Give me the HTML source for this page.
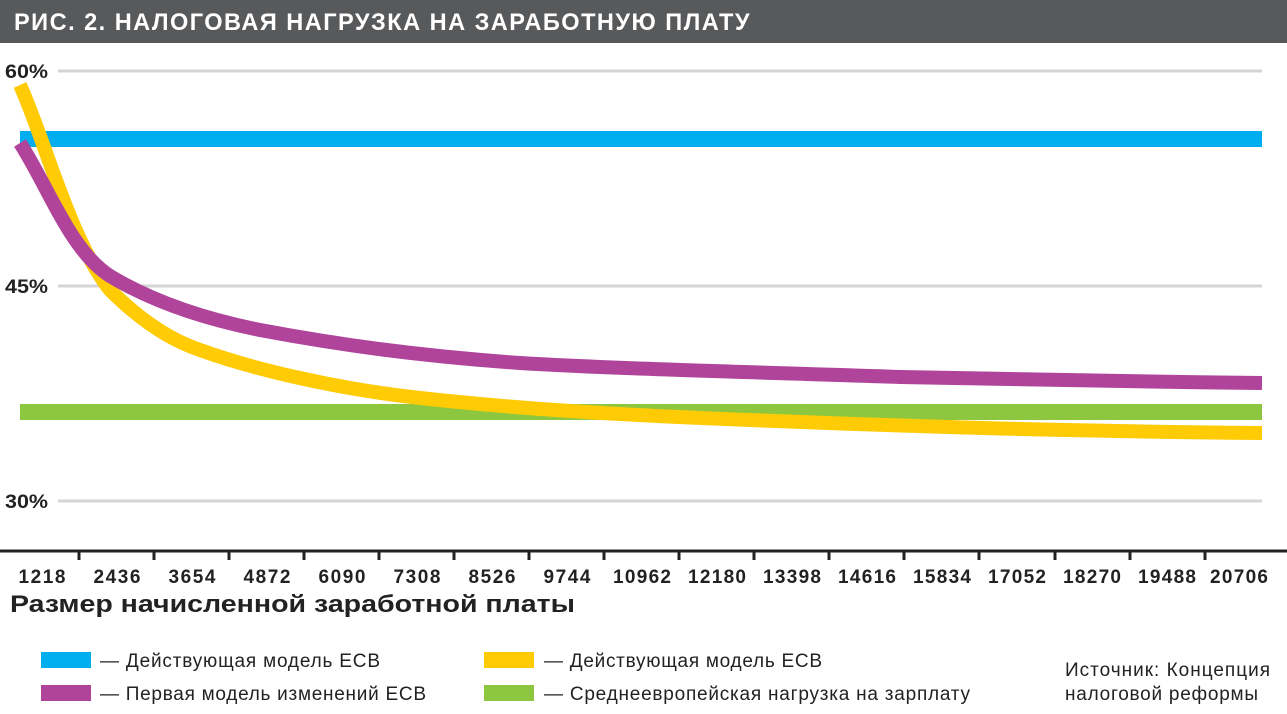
<!DOCTYPE html>
<html><head><meta charset="utf-8"><style>
body{margin:0;width:1287px;height:714px;background:#fff;overflow:hidden;font-family:"Liberation Sans",sans-serif}
</style></head><body>
<svg width="1287" height="714" xmlns="http://www.w3.org/2000/svg" style="display:block">
<rect x="0" y="0" width="1287" height="43" fill="#58595b"/>
<text x="14" y="30" font-family="Liberation Sans, sans-serif" font-weight="bold" font-size="24" fill="#fff" letter-spacing="1.5" textLength="737" lengthAdjust="spacingAndGlyphs">РИС. 2. НАЛОГОВАЯ НАГРУЗКА НА ЗАРАБОТНУЮ ПЛАТУ</text>
<g stroke="#d4d4d4" stroke-width="3">
<line x1="58" y1="71" x2="1262" y2="71"/>
<line x1="58" y1="286" x2="1262" y2="286"/>
<line x1="58" y1="501" x2="1262" y2="501"/>
</g>
<g font-family="Liberation Sans, sans-serif" font-weight="bold" font-size="19" fill="#222">
<text x="5" y="78" textLength="43" lengthAdjust="spacingAndGlyphs">60%</text><text x="5" y="293" textLength="43" lengthAdjust="spacingAndGlyphs">45%</text><text x="5" y="508" textLength="43" lengthAdjust="spacingAndGlyphs">30%</text>
</g>
<line x1="0" y1="551" x2="1287" y2="551" stroke="#222" stroke-width="3"/>
<g stroke="#222" stroke-width="3">
<line x1="79" y1="551" x2="79" y2="560"/><line x1="154" y1="551" x2="154" y2="560"/><line x1="229" y1="551" x2="229" y2="560"/><line x1="304" y1="551" x2="304" y2="560"/><line x1="379" y1="551" x2="379" y2="560"/><line x1="454" y1="551" x2="454" y2="560"/><line x1="529" y1="551" x2="529" y2="560"/><line x1="604" y1="551" x2="604" y2="560"/><line x1="679" y1="551" x2="679" y2="560"/><line x1="754" y1="551" x2="754" y2="560"/><line x1="829" y1="551" x2="829" y2="560"/><line x1="904" y1="551" x2="904" y2="560"/><line x1="979" y1="551" x2="979" y2="560"/><line x1="1055" y1="551" x2="1055" y2="560"/><line x1="1130" y1="551" x2="1130" y2="560"/><line x1="1205" y1="551" x2="1205" y2="560"/>
</g>
<g font-family="Liberation Sans, sans-serif" font-weight="bold" font-size="19" fill="#222" text-anchor="middle" lengthAdjust="spacingAndGlyphs">
<text x="42" y="583" textLength="47">1218</text><text x="117" y="583" textLength="47">2436</text><text x="192" y="583" textLength="47">3654</text><text x="267" y="583" textLength="47">4872</text><text x="342" y="583" textLength="47">6090</text><text x="417" y="583" textLength="47">7308</text><text x="492" y="583" textLength="47">8526</text><text x="567" y="583" textLength="47">9744</text><text x="642" y="583" textLength="58">10962</text><text x="717" y="583" textLength="58">12180</text><text x="792" y="583" textLength="58">13398</text><text x="867" y="583" textLength="58">14616</text><text x="942" y="583" textLength="58">15834</text><text x="1017" y="583" textLength="58">17052</text><text x="1092" y="583" textLength="58">18270</text><text x="1167" y="583" textLength="58">19488</text><text x="1239" y="583" textLength="58">20706</text>
</g>
<text x="10" y="612" font-family="Liberation Sans, sans-serif" font-weight="bold" font-size="24" fill="#222" textLength="565" lengthAdjust="spacingAndGlyphs">Размер начисленной заработной платы</text>
<line x1="20" y1="139" x2="1262" y2="139" stroke="#00aeef" stroke-width="16"/>
<line x1="20" y1="412" x2="1262" y2="412" stroke="#8dc63f" stroke-width="16"/>
<path d="M20,85 C45,140 70,240 110,290 C140,320 170,340 200,350 C250,368 330,388 420,398 C520,409 620,415 750,420 C900,426 1050,431 1262,433" fill="none" stroke="#ffcb05" stroke-width="14"/>
<path d="M20,143 C50,190 70,250 110,276 C150,300 200,318 260,330 C340,345 420,356 520,363 C620,369 750,372 900,377 C1050,380 1150,382 1262,383" fill="none" stroke="#b0439a" stroke-width="14"/>
<rect x="41" y="652" width="50" height="16" fill="#00aeef"/>
<rect x="41" y="685" width="50" height="16" fill="#b0439a"/>
<rect x="484" y="652" width="50" height="16" fill="#ffcb05"/>
<rect x="484" y="685" width="50" height="16" fill="#8dc63f"/>
<g font-family="Liberation Sans, sans-serif" font-size="19" fill="#222" lengthAdjust="spacingAndGlyphs">
<text x="100" y="667" textLength="280">— Действующая модель ЕСВ</text>
<text x="100" y="700" textLength="326">— Первая модель изменений ЕСВ</text>
<text x="544" y="667" textLength="278">— Действующая модель ЕСВ</text>
<text x="544" y="700" textLength="426">— Среднеевропейская нагрузка на зарплату</text>
<text x="1065" y="676" textLength="205">Источник: Концепция</text>
<text x="1065" y="700" textLength="193">налоговой реформы</text>
</g>
</svg>
</body></html>
